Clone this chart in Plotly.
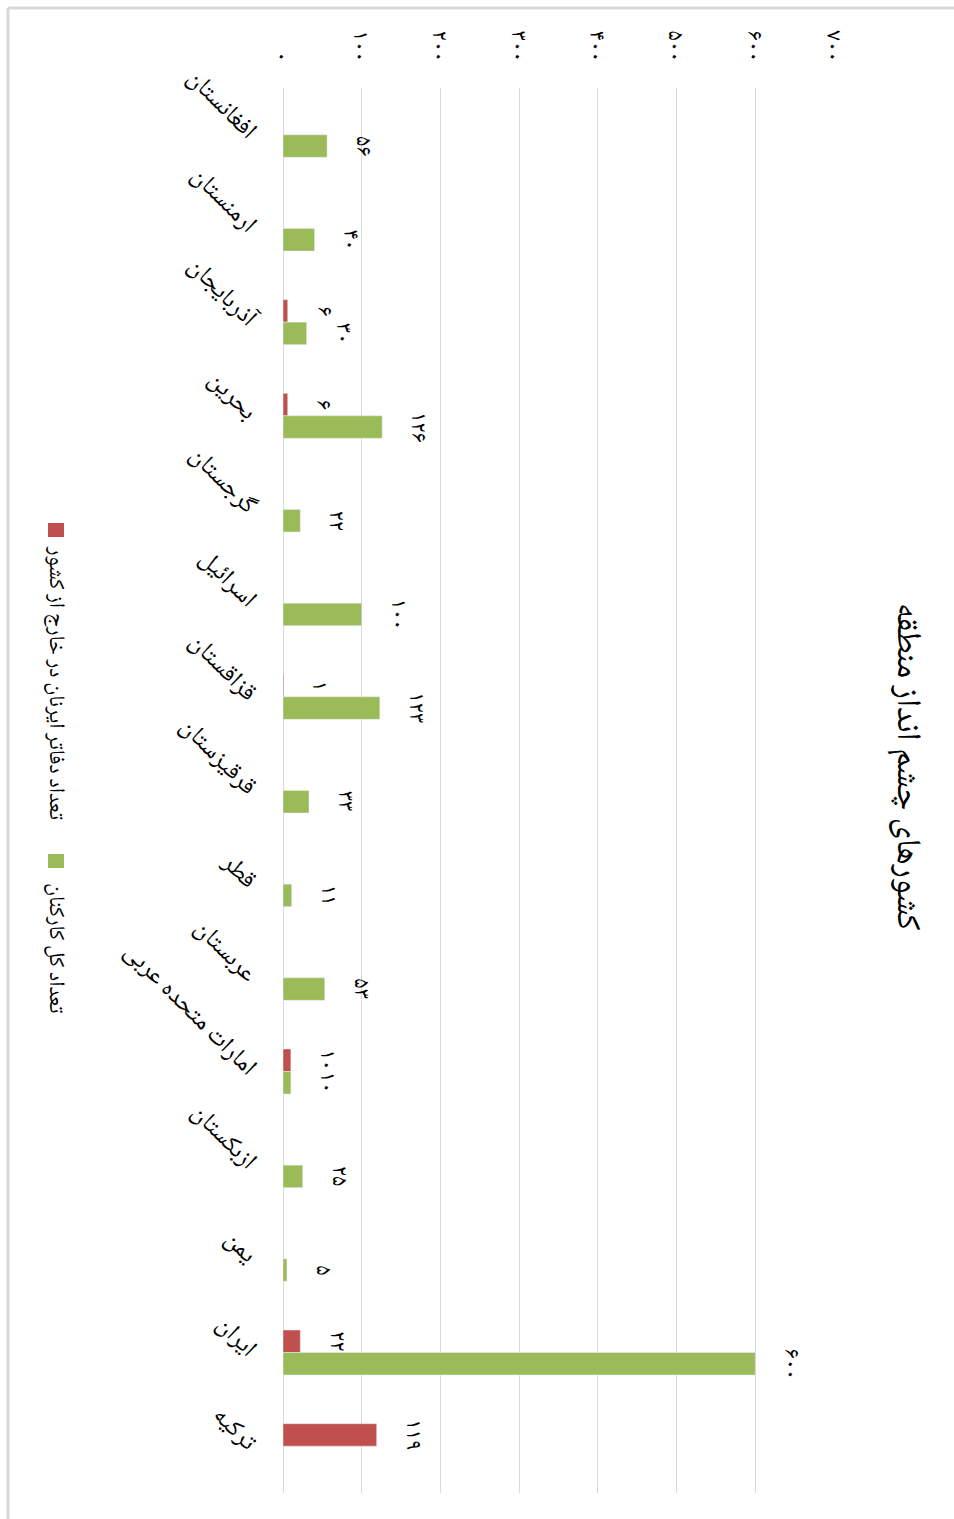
import plotly.graph_objects as go

# ---------------- data ----------------
countries = ["افغانستان", "ارمنستان", "آذربایجان", "بحرین", "گرجستان", "اسرائیل",
             "قزاقستان", "قرقیزستان", "قطر", "عربستان", "امارات متحده عربی",
             "ازبکستان", "یمن", "ایران", "ترکیه"]
offices = [None, None, 6, 6, None, None, 1, None, None, None, 10, None, None, 22, 119]
staff = [56, 40, 30, 126, 22, 100, 123, 33, 11, 53, 10, 25, 5, 600, None]
series_names = ["تعداد دفاتر ایرنان در خارج از کشور", "تعداد کل کارکنان"]
value_ticks = [0, 100, 200, 300, 400, 500, 600, 700]
title_text = "کشورهای چشم انداز منطقه"

# ---------------- style ----------------
W, H = 954, 1519
L, R, T, B = 283, 954 - 834, 88, 1519 - 1493
RED = "#C0504D"
GREEN = "#9BBB59"
GRID = "#D9D9D9"
FONT = "Noto Naskh Arabic, Noto Sans Arabic, DejaVu Sans, sans-serif"
TXT = "#000000"

PD = "۰۱۲۳۴۵۶۷۸۹"


def fa(n):
    return "".join(PD[int(c)] for c in str(n))


def px_x(px):
    return (px - L) / (W - L - R)


def px_y(py):
    return (H - B - py) / (H - T - B)


ypos = list(range(len(countries)))

fig = go.Figure()
fig.add_trace(go.Bar(y=ypos, x=offices, orientation="h", marker_color=RED,
                     name=series_names[0], showlegend=False))
fig.add_trace(go.Bar(y=ypos, x=staff, orientation="h", marker_color=GREEN,
                     name=series_names[1], showlegend=False))

bargap = 0.52
half = (1 - bargap) / 4

annotations = []
for i, v in enumerate(offices):
    if v is not None:
        annotations.append(dict(x=v, y=i - half, xref="x", yref="y", text=fa(v),
                                textangle=90, showarrow=False, xshift=35,
                                xanchor="center", yanchor="middle",
                                font=dict(size=23, color=TXT, family=FONT)))
for i, v in enumerate(staff):
    if v is not None:
        annotations.append(dict(x=v, y=i + half, xref="x", yref="y", text=fa(v),
                                textangle=90, showarrow=False, xshift=35,
                                xanchor="center", yanchor="middle",
                                font=dict(size=23, color=TXT, family=FONT)))

# title
annotations.append(dict(x=px_x(905), y=px_y(767), xref="paper", yref="paper",
                        text=title_text, textangle=90, showarrow=False,
                        xanchor="center", yanchor="middle",
                        font=dict(size=34, color=TXT, family=FONT)))

# legend texts
annotations.append(dict(x=px_x(55), y=px_y(683), xref="paper", yref="paper",
                        text=series_names[0], textangle=90, showarrow=False,
                        xanchor="center", yanchor="middle",
                        font=dict(size=22, color=TXT, family=FONT)))
annotations.append(dict(x=px_x(55), y=px_y(948), xref="paper", yref="paper",
                        text=series_names[1], textangle=90, showarrow=False,
                        xanchor="center", yanchor="middle",
                        font=dict(size=22, color=TXT, family=FONT)))

shapes = [
    dict(type="rect", xref="paper", yref="paper", xsizemode="pixel", ysizemode="pixel",
         xanchor=px_x(56), yanchor=px_y(530), x0=-8, x1=8, y0=-7, y1=7,
         fillcolor=RED, line=dict(width=0)),
    dict(type="rect", xref="paper", yref="paper", xsizemode="pixel", ysizemode="pixel",
         xanchor=px_x(56), yanchor=px_y(861), x0=-8, x1=8, y0=-7, y1=7,
         fillcolor=GREEN, line=dict(width=0)),
    # chart border (top and left visible)
    dict(type="line", xref="paper", yref="paper", x0=px_x(8), x1=px_x(954),
         y0=px_y(8), y1=px_y(8), line=dict(color=GRID, width=3)),
    dict(type="line", xref="paper", yref="paper", x0=px_x(8), x1=px_x(8),
         y0=px_y(8), y1=px_y(1519), line=dict(color=GRID, width=3)),
]

fig.update_layout(
    width=W, height=H,
    margin=dict(l=L, r=R, t=T, b=B, autoexpand=False),
    paper_bgcolor="white", plot_bgcolor="white",
    barmode="group", bargap=bargap, bargroupgap=0,
    showlegend=False,
    annotations=annotations, shapes=shapes,
    font=dict(family=FONT, color=TXT),
    xaxis=dict(range=[0, 700], side="top", tickvals=value_ticks,
               ticktext=[fa(v) for v in value_ticks], tickangle=90,
               showgrid=True, gridcolor=GRID, gridwidth=1,
               zeroline=True, zerolinecolor=GRID, zerolinewidth=1,
               showline=False, ticks="", automargin=False, ticklabelstandoff=22,
               tickfont=dict(size=23, color=TXT, family=FONT)),
    yaxis=dict(range=[len(countries) - 0.5, -0.5], tickvals=ypos, ticktext=countries,
               tickangle=45, showgrid=False, zeroline=False, showline=False,
               ticks="", automargin=False, ticklabelstandoff=26,
               tickfont=dict(size=25, color=TXT, family=FONT)),
)

fig.write_html("out.html")
